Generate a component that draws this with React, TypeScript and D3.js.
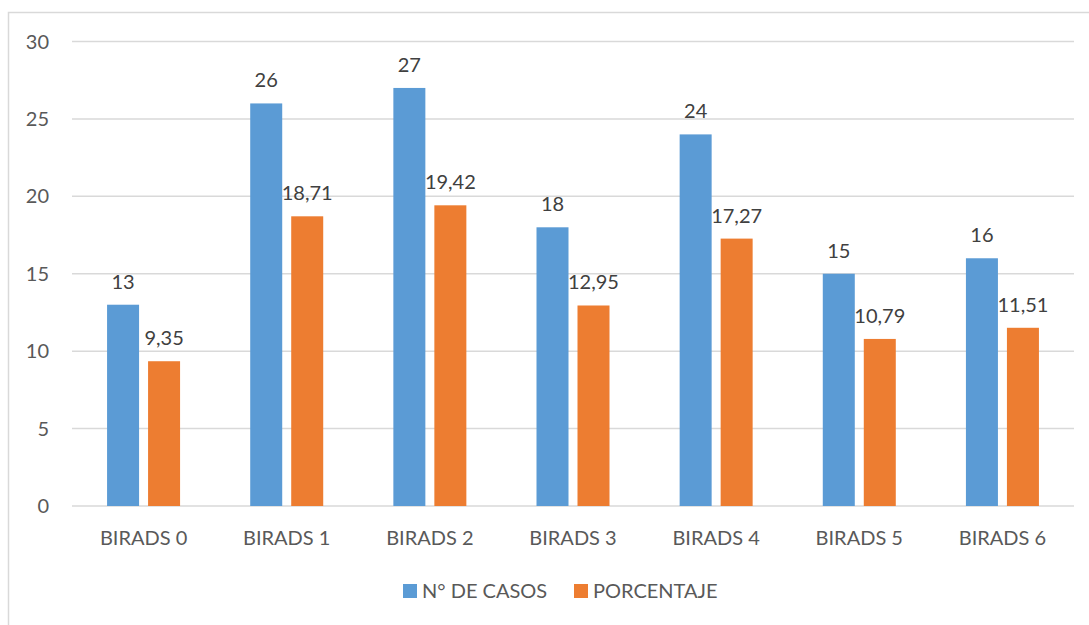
import React, { useEffect, useRef } from "react";
import * as d3 from "d3";

const categories = ["BIRADS 0", "BIRADS 1", "BIRADS 2", "BIRADS 3", "BIRADS 4", "BIRADS 5", "BIRADS 6"];
const casos = [13, 26, 27, 18, 24, 15, 16];
const porcentaje = [9.35, 18.71, 19.42, 12.95, 17.27, 10.79, 11.51];
const yTicks = [0, 5, 10, 15, 20, 25, 30];

const seriesNames = ["N° DE CASOS", "PORCENTAJE"];
const colors = ["#5B9BD5", "#ED7D31"];

const W = 1089;
const H = 625;
const FONT = "Lato, 'Open Sans', sans-serif";
const TEXT = "#595959";

const App = () => {
  const svgRef = useRef<SVGSVGElement>(null);

  useEffect(() => {
    const svg = d3.select(svgRef.current);
    svg.selectAll("*").remove();

    const x = d3.scaleBand().domain(categories).range([72, 1074]);
    const y = d3.scaleLinear().domain([0, 30]).range([506, 41.5]);
    const barW = 32;
    const gap = 9;

    // chart border (cut off at right/bottom)
    svg
      .append("rect")
      .attr("x", 8.5)
      .attr("y", 12.5)
      .attr("width", W + 20)
      .attr("height", H + 20)
      .attr("fill", "white")
      .attr("stroke", "#d9d9d9")
      .attr("stroke-width", 1.5);

    // gridlines
    svg
      .append("g")
      .selectAll("line")
      .data(yTicks)
      .enter()
      .append("line")
      .attr("x1", 72)
      .attr("x2", 1074)
      .attr("y1", (d) => y(d))
      .attr("y2", (d) => y(d))
      .attr("stroke", "#d9d9d9")
      .attr("stroke-width", 1.5);

    // y labels
    svg
      .append("g")
      .selectAll("text")
      .data(yTicks)
      .enter()
      .append("text")
      .attr("x", 49)
      .attr("y", (d) => y(d))
      .attr("dy", "0.35em")
      .attr("text-anchor", "end")
      .attr("font-family", FONT)
      .attr("font-size", 20)
      .attr("fill", TEXT)
      .text((d) => d);

    const series = [casos, porcentaje];
    series.forEach((vals, si) => {
      const offset = si === 0 ? -gap / 2 - barW : gap / 2;
      const g = svg.append("g");
      g.selectAll("rect")
        .data(vals)
        .enter()
        .append("rect")
        .attr("x", (_, i) => x(categories[i])! + x.bandwidth() / 2 + offset)
        .attr("y", (d) => y(d))
        .attr("width", barW)
        .attr("height", (d) => y(0) - y(d))
        .attr("fill", colors[si]);
      g.selectAll("text")
        .data(vals)
        .enter()
        .append("text")
        .attr("x", (_, i) => x(categories[i])! + x.bandwidth() / 2 + offset + barW / 2)
        .attr("y", (d) => y(d) - 16)
        .attr("text-anchor", "middle")
        .attr("font-family", FONT)
        .attr("font-size", 20)
        .attr("fill", "#404040")
        .text((d) => (si === 0 ? String(d) : d3.format(".2f")(d).replace(".", ",")));
    });

    // x labels
    svg
      .append("g")
      .selectAll("text")
      .data(categories)
      .enter()
      .append("text")
      .attr("x", (d) => x(d)! + x.bandwidth() / 2)
      .attr("y", 545)
      .attr("text-anchor", "middle")
      .attr("font-family", FONT)
      .attr("font-size", 20)
      .attr("fill", TEXT)
      .text((d) => d);

    // legend
    const legendX = [403, 574];
    seriesNames.forEach((name, i) => {
      svg
        .append("rect")
        .attr("x", legendX[i])
        .attr("y", 584)
        .attr("width", 14)
        .attr("height", 14)
        .attr("fill", colors[i]);
      svg
        .append("text")
        .attr("x", legendX[i] + 19)
        .attr("y", 598)
        .attr("font-family", FONT)
        .attr("font-size", 20)
        .attr("fill", TEXT)
        .text(name);
    });
  }, []);

  return (
    <svg
      ref={svgRef}
      width={W}
      height={H}
      style={{ position: "absolute", left: 0, top: 0, background: "white" }}
    />
  );
};

export default App;
